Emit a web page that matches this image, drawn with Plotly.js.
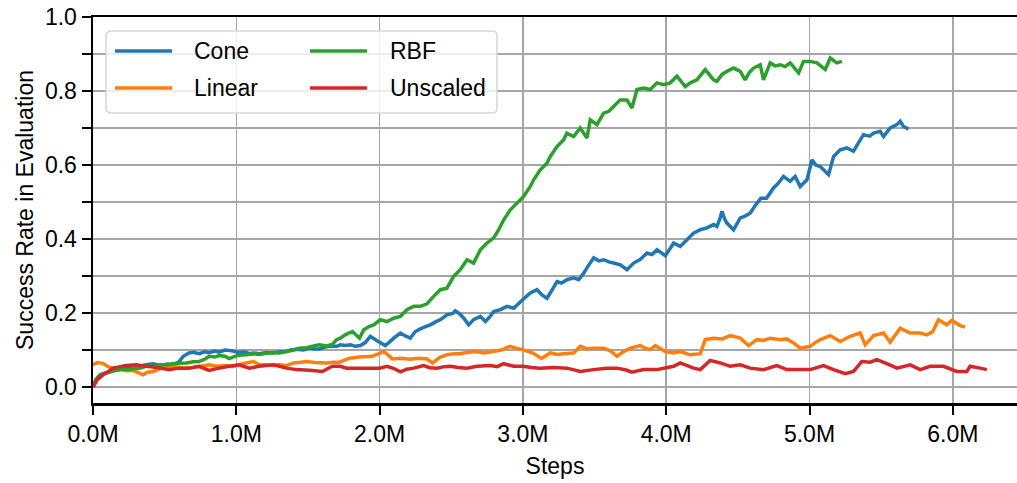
<!DOCTYPE html>
<html>
<head>
<meta charset="utf-8">
<script src="https://cdn.plot.ly/plotly-3.0.1.min.js"></script>
<style>
  html, body { margin: 0; padding: 0; background: #ffffff; }
  #chart { width: 1017px; height: 483px; }
</style>
</head>
<body>
<div id="chart"></div>
<script>
// Series labels and colours (legend order: Cone, Linear | RBF, Unscaled)
const seriesNames = ['Cone', 'Linear', 'RBF', 'Unscaled'];
const seriesColors = ['#1f77b4', '#ff7f0e', '#2ca02c', '#d62728'];

// Training steps in millions, success rate in evaluation
const coneSteps = [0, 0.02, 0.05, 0.09, 0.15, 0.19, 0.25, 0.28, 0.33, 0.37, 0.42, 0.47, 0.52, 0.56, 0.6, 0.63, 0.67, 0.7, 0.74, 0.78, 0.81, 0.85, 0.88, 0.92, 0.95, 0.99, 1.02, 1.06, 1.09, 1.12, 1.16, 1.21, 1.26, 1.3, 1.35, 1.38, 1.42, 1.47, 1.51, 1.55, 1.58, 1.62, 1.65, 1.7,
  1.726, 1.76, 1.796, 1.83, 1.866, 1.9, 1.935, 1.982, 2.04, 2.07, 2.098, 2.145, 2.18, 2.214, 2.25, 2.284, 2.32, 2.354, 2.39, 2.424, 2.47, 2.51, 2.528, 2.56, 2.587, 2.622, 2.656, 2.703, 2.738, 2.77, 2.796, 2.843, 2.889, 2.936, 2.998,
  3.052, 3.098, 3.133, 3.168, 3.2, 3.238, 3.27, 3.308, 3.354, 3.389, 3.42, 3.447, 3.494, 3.53, 3.564, 3.6, 3.633, 3.68, 3.726, 3.773, 3.82, 3.866, 3.9, 3.936, 3.994,
  4.052, 4.098, 4.145, 4.191, 4.238, 4.284, 4.331, 4.354, 4.375, 4.389, 4.41, 4.424, 4.47, 4.517, 4.55, 4.586, 4.62, 4.66, 4.7, 4.749, 4.78, 4.819, 4.865, 4.9, 4.935, 4.982,
  5.017, 5.045, 5.075, 5.133, 5.168, 5.214, 5.261, 5.307, 5.354, 5.377, 5.42, 5.447, 5.493, 5.517, 5.563, 5.61, 5.633, 5.656, 5.691];
const coneRate = [0, 0.02, 0.033, 0.038, 0.045, 0.047, 0.052, 0.058, 0.056, 0.06, 0.063, 0.058, 0.062, 0.06, 0.068, 0.083, 0.092, 0.094, 0.09, 0.095, 0.093, 0.097, 0.094, 0.1, 0.099, 0.096, 0.093, 0.095, 0.09, 0.092, 0.09, 0.093, 0.092, 0.095, 0.096, 0.1, 0.102, 0.1, 0.105, 0.103, 0.103, 0.108, 0.11, 0.11,
  0.114, 0.112, 0.114, 0.11, 0.112, 0.12, 0.137, 0.125, 0.112, 0.122, 0.132, 0.146, 0.138, 0.132, 0.15, 0.157, 0.163, 0.168, 0.176, 0.182, 0.195, 0.199, 0.206, 0.197, 0.186, 0.168, 0.182, 0.191, 0.177, 0.19, 0.204, 0.209, 0.218, 0.213, 0.236,
  0.254, 0.263, 0.249, 0.24, 0.26, 0.285, 0.281, 0.29, 0.295, 0.29, 0.305, 0.322, 0.349, 0.341, 0.344, 0.338, 0.335, 0.33, 0.317, 0.335, 0.345, 0.362, 0.358, 0.371, 0.355,
  0.389, 0.38, 0.398, 0.416, 0.425, 0.43, 0.439, 0.434, 0.455, 0.475, 0.452, 0.443, 0.425, 0.457, 0.462, 0.47, 0.49, 0.51, 0.51, 0.538, 0.55, 0.569, 0.556, 0.569, 0.542, 0.56,
  0.614, 0.6, 0.596, 0.574, 0.623, 0.641, 0.646, 0.637, 0.668, 0.682, 0.678, 0.686, 0.691, 0.677, 0.7, 0.709, 0.718, 0.704, 0.697];

const linearSteps = [0, 0.03, 0.07, 0.1, 0.16, 0.2, 0.23, 0.28, 0.35, 0.38, 0.42, 0.47, 0.53, 0.58, 0.63, 0.7, 0.75, 0.81, 0.86, 0.93, 0.97, 1.02, 1.07, 1.12, 1.16, 1.21, 1.26, 1.3, 1.35, 1.4, 1.45, 1.49, 1.55, 1.63, 1.68,
  1.72, 1.79, 1.86, 1.95, 2.03, 2.09, 2.15, 2.21, 2.27, 2.33, 2.37, 2.42, 2.47, 2.52, 2.56, 2.62, 2.67, 2.73, 2.79, 2.85, 2.91, 2.96, 3.0,
  3.07, 3.13, 3.191, 3.24, 3.284, 3.354, 3.4, 3.45, 3.493, 3.563, 3.61, 3.656, 3.7, 3.749, 3.819, 3.86, 3.889, 3.924, 3.994,
  4.052, 4.098, 4.168, 4.238, 4.272, 4.331, 4.39, 4.447, 4.517, 4.575, 4.633, 4.68, 4.726, 4.796, 4.84, 4.889, 4.935,
  5.005, 5.04, 5.075, 5.145, 5.214, 5.284, 5.354, 5.389, 5.447, 5.517, 5.563, 5.633, 5.703, 5.772, 5.819, 5.86, 5.9, 5.958, 5.993, 6.051, 6.086];
const linearRate = [0.06, 0.066, 0.064, 0.056, 0.047, 0.047, 0.044, 0.045, 0.033, 0.04, 0.042, 0.05, 0.056, 0.054, 0.051, 0.053, 0.056, 0.06, 0.056, 0.058, 0.055, 0.06, 0.065, 0.069, 0.06, 0.06, 0.058, 0.06, 0.058, 0.065, 0.067, 0.069, 0.066, 0.065, 0.067,
  0.067, 0.078, 0.081, 0.083, 0.096, 0.076, 0.078, 0.075, 0.078, 0.076, 0.065, 0.08, 0.087, 0.09, 0.09, 0.094, 0.096, 0.092, 0.096, 0.1, 0.11, 0.104, 0.101,
  0.092, 0.077, 0.092, 0.088, 0.09, 0.092, 0.11, 0.103, 0.105, 0.105, 0.098, 0.083, 0.095, 0.105, 0.112, 0.104, 0.101, 0.112, 0.096,
  0.092, 0.096, 0.087, 0.09, 0.128, 0.132, 0.13, 0.139, 0.132, 0.112, 0.128, 0.126, 0.132, 0.128, 0.13, 0.119, 0.105,
  0.11, 0.12, 0.128, 0.139, 0.123, 0.137, 0.146, 0.114, 0.139, 0.146, 0.121, 0.159, 0.146, 0.146, 0.141, 0.15, 0.182, 0.168, 0.18, 0.166, 0.162];

const rbfSteps = [0, 0.02, 0.05, 0.09, 0.15, 0.19, 0.25, 0.28, 0.33, 0.37, 0.42, 0.47, 0.52, 0.56, 0.6, 0.65, 0.7, 0.74, 0.78, 0.81, 0.85, 0.88, 0.92, 0.95, 0.99, 1.02, 1.07, 1.12, 1.16, 1.21, 1.26, 1.3, 1.35, 1.4, 1.44, 1.49, 1.54, 1.58, 1.63, 1.67, 1.7,
  1.726, 1.76, 1.81, 1.86, 1.889, 1.93, 1.959, 2.005, 2.052, 2.098, 2.145, 2.191, 2.238, 2.284, 2.331, 2.377, 2.424, 2.47, 2.517, 2.563, 2.61, 2.656, 2.703, 2.749, 2.796, 2.831, 2.866, 2.912, 2.959,
  3.005, 3.052, 3.075, 3.121, 3.168, 3.191, 3.238, 3.284, 3.307, 3.354, 3.4, 3.447, 3.47, 3.517, 3.563, 3.6, 3.633, 3.679, 3.726, 3.761, 3.796, 3.842, 3.889, 3.935, 3.982,
  4.028, 4.075, 4.133, 4.168, 4.214, 4.272, 4.331, 4.354, 4.39, 4.424, 4.47, 4.517, 4.551, 4.58, 4.61, 4.656, 4.679, 4.726, 4.76, 4.796, 4.83, 4.865, 4.924, 4.958,
  5.005, 5.052, 5.11, 5.145, 5.191, 5.226];
const rbfRate = [0, 0.02, 0.033, 0.038, 0.044, 0.047, 0.047, 0.049, 0.051, 0.056, 0.056, 0.06, 0.06, 0.063, 0.064, 0.065, 0.068, 0.069, 0.075, 0.083, 0.081, 0.085, 0.083, 0.077, 0.083, 0.086, 0.087, 0.09, 0.088, 0.091, 0.093, 0.092, 0.096, 0.1, 0.105, 0.106, 0.111, 0.114, 0.111, 0.115, 0.128,
  0.132, 0.141, 0.15, 0.132, 0.155, 0.164, 0.168, 0.182, 0.177, 0.186, 0.191, 0.209, 0.218, 0.218, 0.225, 0.245, 0.263, 0.267, 0.299, 0.317, 0.344, 0.335, 0.371, 0.389, 0.403, 0.425, 0.452, 0.479, 0.497,
  0.515, 0.542, 0.56, 0.587, 0.605, 0.623, 0.65, 0.668, 0.686, 0.677, 0.7, 0.673, 0.722, 0.709, 0.74, 0.745, 0.758, 0.776, 0.776, 0.754, 0.804, 0.808, 0.804, 0.822, 0.817,
  0.822, 0.84, 0.812, 0.822, 0.83, 0.858, 0.83, 0.826, 0.845, 0.853, 0.862, 0.853, 0.83, 0.85, 0.862, 0.871, 0.83, 0.876, 0.868, 0.871, 0.866, 0.876, 0.849, 0.88,
  0.88, 0.876, 0.858, 0.889, 0.876, 0.88];

const unscaledSteps = [0, 0.03, 0.07, 0.1, 0.14, 0.19, 0.23, 0.3, 0.37, 0.42, 0.47, 0.53, 0.6, 0.67, 0.74, 0.81, 0.88, 0.95, 1.02, 1.09, 1.16, 1.21, 1.26, 1.35, 1.42, 1.51, 1.6, 1.67,
  1.726, 1.77, 1.842, 1.93, 2.0, 2.052, 2.1, 2.145, 2.19, 2.238, 2.307, 2.35, 2.4, 2.45, 2.493, 2.55, 2.61, 2.68, 2.773, 2.82, 2.866, 2.935, 2.998,
  3.06, 3.121, 3.214, 3.307, 3.35, 3.4, 3.493, 3.586, 3.656, 3.72, 3.761, 3.842, 3.935, 4.0,
  4.052, 4.098, 4.191, 4.238, 4.307, 4.377, 4.447, 4.517, 4.586, 4.679, 4.772, 4.842, 4.935,
  5.005, 5.098, 5.168, 5.249, 5.307, 5.365, 5.424, 5.47, 5.54, 5.61, 5.703, 5.772, 5.842, 5.935,
  6.028, 6.098, 6.121, 6.191, 6.238];
const unscaledRate = [0, 0.02, 0.033, 0.04, 0.051, 0.055, 0.058, 0.06, 0.056, 0.054, 0.051, 0.047, 0.051, 0.051, 0.056, 0.045, 0.051, 0.056, 0.06, 0.051, 0.056, 0.058, 0.06, 0.051, 0.047, 0.045, 0.042, 0.056,
  0.056, 0.051, 0.051, 0.051, 0.051, 0.056, 0.05, 0.041, 0.048, 0.051, 0.058, 0.052, 0.051, 0.055, 0.056, 0.053, 0.051, 0.056, 0.058, 0.055, 0.063, 0.056, 0.056,
  0.053, 0.051, 0.053, 0.051, 0.047, 0.042, 0.047, 0.051, 0.051, 0.046, 0.04, 0.047, 0.047, 0.052,
  0.056, 0.065, 0.051, 0.047, 0.072, 0.065, 0.056, 0.06, 0.051, 0.047, 0.058, 0.047, 0.047,
  0.047, 0.058, 0.047, 0.036, 0.042, 0.069, 0.067, 0.074, 0.063, 0.051, 0.06, 0.047, 0.056, 0.056,
  0.042, 0.042, 0.056, 0.051, 0.047];

const seriesSteps = [coneSteps, linearSteps, rbfSteps, unscaledSteps];
const seriesRates = [coneRate, linearRate, rbfRate, unscaledRate];

// Axis text
const xTitle = 'Steps';
const yTitle = 'Success Rate in Evaluation';

// ---- figure geometry ----
const W = 1017, H = 483;
const margin = { l: 93, r: 0, t: 17, b: 80 };
const plotW = W - margin.l - margin.r;
const plotH = H - margin.t - margin.b;
// pixel -> paper coordinates
const px = x => (x - margin.l) / plotW;
const py = y => (H - margin.b - y) / plotH;

const FONT = 'Liberation Sans, Arial, Helvetica, sans-serif';
const FS = 23;
const GRID = '#a6a6a6';

const traces = seriesNames.map((name, i) => ({
  type: 'scatter',
  mode: 'lines',
  name: name,
  x: seriesSteps[i],
  y: seriesRates[i],
  line: { color: seriesColors[i], width: 3.5, simplify: false },
  showlegend: false,
  hoverinfo: 'x+y+name'
}));

// rounded legend frame
function roundedRect(x0, y0, x1, y1, r) {
  const P = (x, y) => px(x).toFixed(5) + ',' + py(y).toFixed(5);
  return 'M' + P(x0 + r, y0) + ' L' + P(x1 - r, y0) + ' Q' + P(x1, y0) + ' ' + P(x1, y0 + r) +
    ' L' + P(x1, y1 - r) + ' Q' + P(x1, y1) + ' ' + P(x1 - r, y1) +
    ' L' + P(x0 + r, y1) + ' Q' + P(x0, y1) + ' ' + P(x0, y1 - r) +
    ' L' + P(x0, y0 + r) + ' Q' + P(x0, y0) + ' ' + P(x0 + r, y0) + ' Z';
}

const shapes = [{
  type: 'path', xref: 'paper', yref: 'paper', layer: 'above',
  path: roundedRect(106, 31, 497, 113, 5),
  fillcolor: 'rgba(255,255,255,0.8)',
  line: { color: '#d6d6d6', width: 1.5 }
}];
const annotations = [];

// legend entries: two columns, filled column by column
const legendCols = [{ x0: 115, x1: 172, tx: 192 }, { x0: 310, x1: 367, tx: 388 }];
const legendRows = [51, 88];
seriesNames.forEach((name, i) => {
  const c = legendCols[Math.floor(i / 2)];
  const ry = legendRows[i % 2];
  shapes.push({
    type: 'line', xref: 'paper', yref: 'paper', layer: 'above',
    x0: px(c.x0), x1: px(c.x1), y0: py(ry), y1: py(ry),
    line: { color: seriesColors[i], width: 3.5 }
  });
  annotations.push({
    xref: 'paper', yref: 'paper', x: px(c.tx), y: py(ry),
    xanchor: 'left', yanchor: 'middle', showarrow: false,
    text: name, font: { family: FONT, size: FS, color: '#000' }
  });
});

const layout = {
  width: W, height: H,
  margin: margin,
  paper_bgcolor: '#ffffff', plot_bgcolor: '#ffffff',
  font: { family: FONT, size: FS, color: '#000' },
  showlegend: false,
  xaxis: {
    range: [0, plotW / 143.3],
    tick0: 0, dtick: 1, tickformat: '.1f', ticksuffix: 'M',
    ticks: 'outside', ticklen: 9, tickwidth: 2, tickcolor: '#000',
    showgrid: true, gridcolor: GRID, gridwidth: 1.5,
    showline: true, linecolor: '#000', linewidth: 2.5, mirror: true,
    zeroline: false,
    tickfont: { family: FONT, size: FS, color: '#000' },
    title: { text: xTitle, font: { family: FONT, size: FS, color: '#000' }, standoff: 12 }
  },
  yaxis: {
    range: [-0.0432, 1.0],
    tick0: 0, dtick: 0.2, tickformat: '.1f',
    ticks: 'outside', ticklen: 9, tickwidth: 2, tickcolor: '#000',
    showgrid: true, gridcolor: GRID, gridwidth: 1.5,
    minor: { tick0: 0, dtick: 0.1, ticks: 'outside', ticklen: 9, tickwidth: 2, tickcolor: '#000',
             showgrid: true, gridcolor: GRID, gridwidth: 1.5 },
    showline: true, linecolor: '#000', linewidth: 2.5, mirror: false,
    zeroline: false,
    tickfont: { family: FONT, size: FS, color: '#000' },
    title: { text: yTitle, font: { family: FONT, size: FS, color: '#000' }, standoff: 5 }
  },
  shapes: shapes,
  annotations: annotations
};

Plotly.newPlot('chart', traces, layout, { staticPlot: true, displayModeBar: false });
</script>
</body>
</html>
